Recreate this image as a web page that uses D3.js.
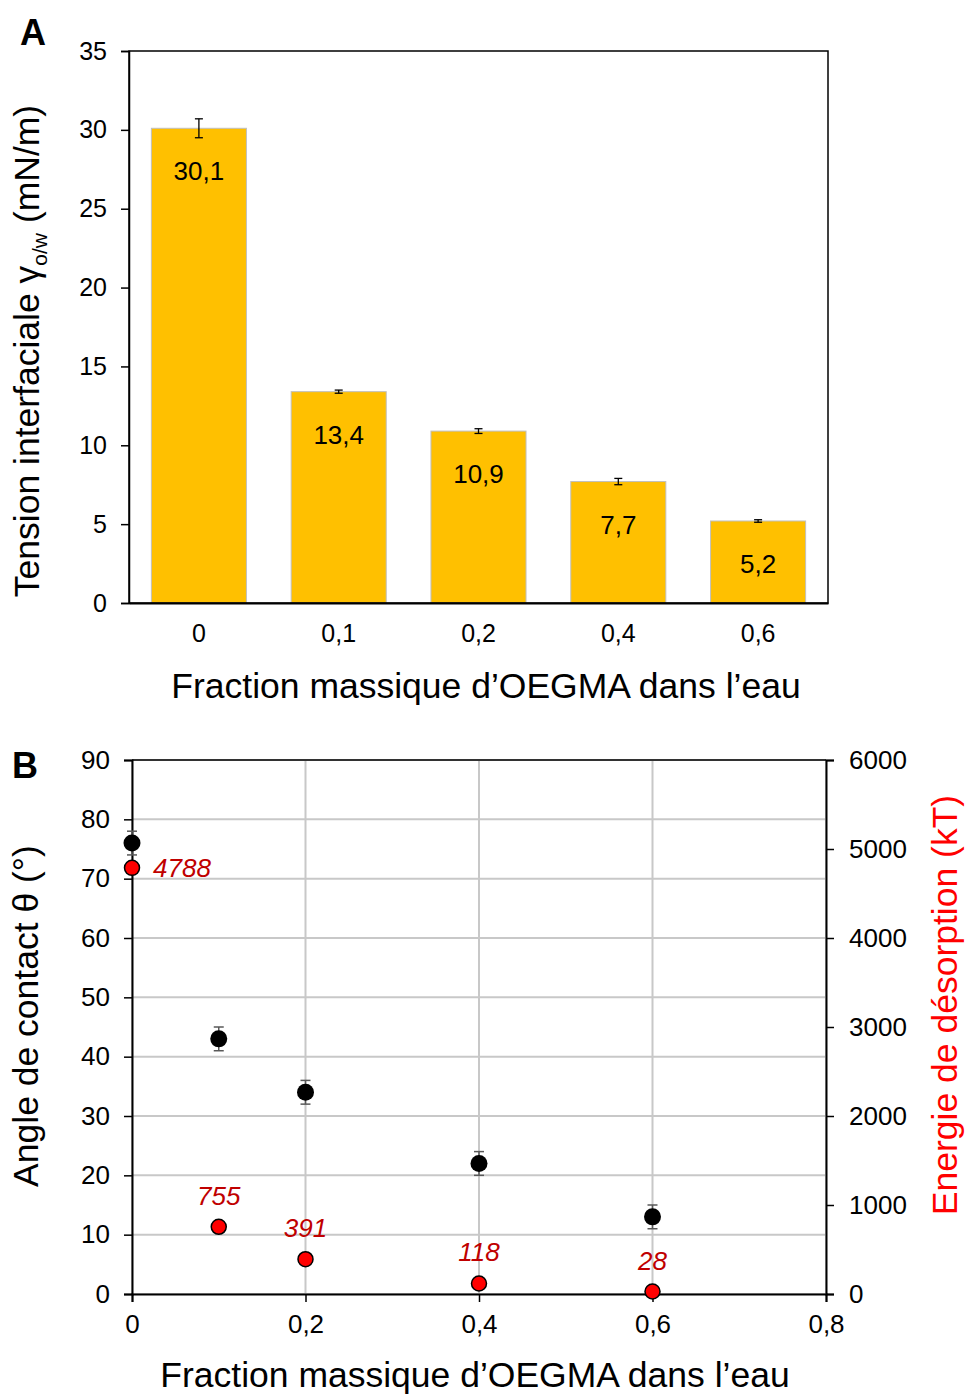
<!DOCTYPE html>
<html><head><meta charset="utf-8">
<script src="https://cdn.jsdelivr.net/npm/d3@7"></script>
<style>
html,body{margin:0;padding:0;background:#fff;}
svg{display:block;font-family:"Liberation Sans",Arial,sans-serif;}
</style></head>
<body>
<svg id="c" width="967" height="1396"></svg>
<script>
// ---- Panel A data ----
const catsA = ["0", "0,1", "0,2", "0,4", "0,6"];
const tensionA = [30.1, 13.4, 10.9, 7.7, 5.2];
const tensionErrA = [0.6, 0.1, 0.15, 0.2, 0.08];
const tensionLabelsA = ["30,1", "13,4", "10,9", "7,7", "5,2"];
const yTicksA = [0, 5, 10, 15, 20, 25, 30, 35];

// ---- Panel B data ----
const fractionB = [0, 0.1, 0.2, 0.4, 0.6];
const angleB = [76, 43, 34, 22, 13];
const angleErrB = [2, 2, 2, 2, 2];
const energyB = [4788, 755, 391, 118, 28];
const energyLabelsB = ["4788", "755", "391", "118", "28"];
const xTicksB = [0, 0.2, 0.4, 0.6, 0.8];
const yTicksB = [0, 10, 20, 30, 40, 50, 60, 70, 80, 90];
const y2TicksB = [0, 1000, 2000, 3000, 4000, 5000, 6000];

const svg = d3.select("#c");
const fmt = d => String(d).replace(".", ",");
const FONT = "Liberation Sans, Arial, sans-serif";

// ================= Panel A =================
const A = {l: 129, r: 828, t: 51, b: 603};
const xA = d3.scaleBand().domain(catsA).range([A.l, A.r]).paddingInner(0.32).paddingOuter(0.16);
const yA = d3.scaleLinear().domain([0, 35]).range([A.b, A.t]);

const gA = svg.append("g");
// bars
gA.selectAll("rect.bar").data(tensionA).join("rect")
  .attr("x", (d, i) => xA(catsA[i])).attr("width", xA.bandwidth())
  .attr("y", d => yA(d)).attr("height", d => yA(0) - yA(d))
  .attr("fill", "#FFC000").attr("stroke", "#BFBFBF").attr("stroke-width", 1);
// error bars
const ebA = gA.selectAll("g.eb").data(tensionA).join("g");
ebA.append("line")
  .attr("x1", (d, i) => xA(catsA[i]) + xA.bandwidth() / 2).attr("x2", (d, i) => xA(catsA[i]) + xA.bandwidth() / 2)
  .attr("y1", (d, i) => yA(d + tensionErrA[i])).attr("y2", (d, i) => yA(d - tensionErrA[i]))
  .attr("stroke", "#000").attr("stroke-width", 1.3);
[1, -1].forEach(s => {
  ebA.append("line")
    .attr("x1", (d, i) => xA(catsA[i]) + xA.bandwidth() / 2 - 4).attr("x2", (d, i) => xA(catsA[i]) + xA.bandwidth() / 2 + 4)
    .attr("y1", (d, i) => yA(d + s * tensionErrA[i])).attr("y2", (d, i) => yA(d + s * tensionErrA[i]))
    .attr("stroke", "#000").attr("stroke-width", 1.3);
});
// value labels
gA.selectAll("text.val").data(tensionA).join("text")
  .attr("x", (d, i) => xA(catsA[i]) + xA.bandwidth() / 2)
  .attr("y", d => yA(d) + 52)
  .attr("text-anchor", "middle").attr("font-size", 26).attr("fill", "#000")
  .text((d, i) => tensionLabelsA[i]);

// frame
gA.append("rect").attr("x", A.l).attr("y", A.t).attr("width", A.r - A.l).attr("height", A.b - A.t)
  .attr("fill", "none").attr("stroke", "#000").attr("stroke-width", 1.5);
// y axis
const axA = gA.append("g").attr("transform", `translate(${A.l},0)`)
  .call(d3.axisLeft(yA).tickValues(yTicksA).tickSize(8).tickPadding(14));
axA.select(".domain").attr("stroke-width", 1.5);
axA.selectAll(".tick line").attr("stroke-width", 1.5);
axA.selectAll("text").attr("font-size", 25).attr("font-family", FONT);
// x axis
const axAx = gA.append("g").attr("transform", `translate(0,${A.b})`)
  .call(d3.axisBottom(xA).tickSize(0).tickPadding(21));
axAx.select(".domain").attr("stroke-width", 2);
axAx.selectAll("text").attr("font-size", 25).attr("font-family", FONT);
// titles
gA.append("text").attr("x", 486).attr("y", 698).attr("text-anchor", "middle").attr("font-size", 35.5)
  .text("Fraction massique d\u2019OEGMA dans l\u2019eau");
const tA = gA.append("text").attr("transform", "translate(39,351) rotate(-90)").attr("text-anchor", "middle").attr("font-size", 35.5);
tA.append("tspan").text("Tension interfaciale \u03B3");
tA.append("tspan").attr("font-size", 21).attr("dy", 8).text("o/w");
tA.append("tspan").attr("dy", -8).text(" (mN/m)");
gA.append("text").attr("x", 20).attr("y", 45).attr("font-size", 36).attr("font-weight", "bold").text("A");

// ================= Panel B =================
const B = {l: 132, r: 826, t: 760, b: 1294};
const xB = d3.scaleLinear().domain([0, 0.8]).range([B.l, B.r]);
const yB = d3.scaleLinear().domain([0, 90]).range([B.b, B.t]);
const y2B = d3.scaleLinear().domain([0, 6000]).range([B.b, B.t]);
const gB = svg.append("g");

// grid
gB.selectAll("line.hg").data(yTicksB).join("line")
  .attr("x1", B.l).attr("x2", B.r).attr("y1", d => yB(d)).attr("y2", d => yB(d))
  .attr("stroke", "#C8C8C8").attr("stroke-width", 2);
gB.selectAll("line.vg").data(xTicksB).join("line")
  .attr("x1", d => xB(d)).attr("x2", d => xB(d)).attr("y1", B.t).attr("y2", B.b)
  .attr("stroke", "#C8C8C8").attr("stroke-width", 2);
// frame top
gB.append("line").attr("x1", B.l).attr("x2", B.r).attr("y1", B.t).attr("y2", B.t).attr("stroke", "#000").attr("stroke-width", 1.5);

const axBl = gB.append("g").attr("transform", `translate(${B.l},0)`)
  .call(d3.axisLeft(yB).tickValues(yTicksB).tickSize(8).tickPadding(14));
const axBr = gB.append("g").attr("transform", `translate(${B.r},0)`)
  .call(d3.axisRight(y2B).tickValues(y2TicksB).tickFormat(d3.format("d")).tickSize(8).tickPadding(15));
const axBb = gB.append("g").attr("transform", `translate(0,${B.b})`)
  .call(d3.axisBottom(xB).tickValues(xTicksB).tickFormat(fmt).tickSize(8).tickPadding(13));
[axBl, axBr, axBb].forEach(a => {
  a.select(".domain").attr("stroke-width", 2);
  a.selectAll(".tick line").attr("stroke-width", 1.5);
  a.selectAll("text").attr("font-size", 26).attr("font-family", FONT);
});

// error bars (angle)
const ebB = gB.selectAll("g.ebb").data(angleB).join("g");
ebB.append("line")
  .attr("x1", (d, i) => xB(fractionB[i])).attr("x2", (d, i) => xB(fractionB[i]))
  .attr("y1", (d, i) => yB(d + angleErrB[i])).attr("y2", (d, i) => yB(d - angleErrB[i]))
  .attr("stroke", "#595959").attr("stroke-width", 1.5);
[1, -1].forEach(s => {
  ebB.append("line")
    .attr("x1", (d, i) => xB(fractionB[i]) - 5).attr("x2", (d, i) => xB(fractionB[i]) + 5)
    .attr("y1", (d, i) => yB(d + s * angleErrB[i])).attr("y2", (d, i) => yB(d + s * angleErrB[i]))
    .attr("stroke", "#595959").attr("stroke-width", 1.5);
});
// angle points
gB.selectAll("circle.ang").data(angleB).join("circle")
  .attr("cx", (d, i) => xB(fractionB[i])).attr("cy", d => yB(d)).attr("r", 8.5)
  .attr("fill", "#000");
// energy points
gB.selectAll("circle.en").data(energyB).join("circle")
  .attr("cx", (d, i) => xB(fractionB[i])).attr("cy", d => y2B(d)).attr("r", 7.5)
  .attr("fill", "#FF0000").attr("stroke", "#000").attr("stroke-width", 1.5);
// energy labels
gB.selectAll("text.enl").data(energyB).join("text")
  .attr("x", (d, i) => i === 0 ? xB(fractionB[i]) + 21 : xB(fractionB[i]))
  .attr("y", (d, i) => i === 0 ? y2B(d) + 9 : y2B(d) - 22)
  .attr("text-anchor", (d, i) => i === 0 ? "start" : "middle")
  .attr("font-size", 26).attr("font-style", "italic").attr("fill", "#C00000")
  .text((d, i) => energyLabelsB[i]);

// titles
gB.append("text").attr("x", 475).attr("y", 1387).attr("text-anchor", "middle").attr("font-size", 35.5)
  .text("Fraction massique d\u2019OEGMA dans l\u2019eau");
gB.append("text").attr("transform", "translate(38,1016) rotate(-90)").attr("text-anchor", "middle").attr("font-size", 35.5)
  .text("Angle de contact \u03B8 (\u00B0)");
gB.append("text").attr("transform", "translate(957,1005) rotate(-90)").attr("text-anchor", "middle").attr("font-size", 35.5)
  .attr("fill", "#FF0000").text("Energie de d\u00E9sorption (kT)");
gB.append("text").attr("x", 12).attr("y", 778).attr("font-size", 36).attr("font-weight", "bold").text("B");
</script>
</body></html>
